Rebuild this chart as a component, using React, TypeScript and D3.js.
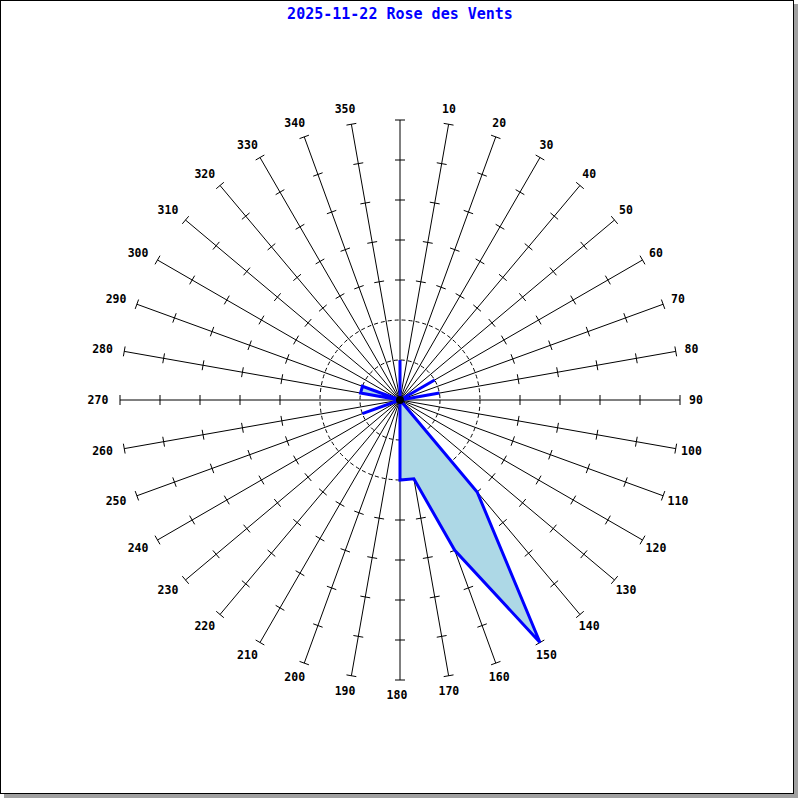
import React from "react";
import * as d3 from "d3";

const title = "2025-11-22 Rose des Vents";
const directions = d3.range(0, 360, 10);
const values = [
  1, 0, 0, 0, 0, 0, 1, 0, 1, 0, 0, 0, 0, 0, 3, 7, 4, 2,
  2, 0, 0, 0, 0, 0, 0, 1, 0, 0, 1, 1, 0, 0, 0, 0, 0, 0,
];
const tickValues = [3, 4, 5, 6, 7];
const circleValues = [1, 2];
const maxValue = 7;

const W = 800;
const H = 800;
const cx = 400;
const cy = 400;
const R = 280;

export default function App() {
  const r = d3.scaleLinear().domain([0, maxValue]).range([0, R]);
  const rad = (deg: number) => (deg * Math.PI) / 180;
  const pt = (deg: number, rr: number) => [
    cx + rr * Math.sin(rad(deg)),
    cy - rr * Math.cos(rad(deg)),
  ];

  const line = d3
    .lineRadial<number>()
    .angle((_, i) => rad(directions[i]))
    .radius((d) => r(d))
    .curve(d3.curveLinearClosed);

  const tickHalf = 5;

  return (
    <svg
      width={W}
      height={H}
      style={{ position: "fixed", left: 0, top: 0, display: "block" }}
      fontFamily="'DejaVu Sans Mono', monospace"
    >
      <rect x={0} y={0} width={W} height={H} fill="#fff" />
      <rect x={4} y={4} width={794} height={794} fill="#a0a0a0" />
      <rect x={0.5} y={0.5} width={793} height={793} fill="#fff" stroke="#000" strokeWidth={1} />
      <text
        x={400}
        y={19}
        textAnchor="middle"
        fill="#0000ff"
        fontSize={15}
        fontWeight="bold"
      >
        {title}
      </text>
      {circleValues.map((v) => (
        <circle
          key={v}
          cx={cx}
          cy={cy}
          r={r(v)}
          fill="none"
          stroke="#000"
          strokeWidth={1}
          strokeDasharray="4,3"
        />
      ))}
      {directions.map((deg) => {
        const [x2, y2] = pt(deg, R);
        const ca = Math.cos(rad(deg));
        const sa = Math.sin(rad(deg));
        return (
          <g key={deg}>
            <line x1={cx} y1={cy} x2={x2} y2={y2} stroke="#000" strokeWidth={1} />
            {tickValues.map((tv) => {
              const [tx, ty] = pt(deg, r(tv));
              return (
                <line
                  key={tv}
                  x1={tx - tickHalf * ca}
                  y1={ty - tickHalf * sa}
                  x2={tx + tickHalf * ca}
                  y2={ty + tickHalf * sa}
                  stroke="#000"
                  strokeWidth={1}
                />
              );
            })}
          </g>
        );
      })}
      <g transform={`translate(${cx},${cy})`}>
        <path
          d={line(values) || ""}
          fill="#add8e6"
          stroke="#0000ff"
          strokeWidth={3}
          strokeLinejoin="miter"
        />
      </g>
      <circle cx={cx} cy={cy} r={4} fill="#000" />
      {directions
        .filter((d) => d !== 0)
        .map((deg) => {
          const lx = cx - 3 + 299 * Math.sin(rad(deg));
          const ly = cy - 295 * Math.cos(rad(deg));
          return (
            <text
              key={deg}
              x={lx}
              y={ly}
              textAnchor="middle"
              dominantBaseline="central"
              fontSize={11.5}
              fontWeight="bold"
              fill="#000"
            >
              {deg}
            </text>
          );
        })}
    </svg>
  );
}
